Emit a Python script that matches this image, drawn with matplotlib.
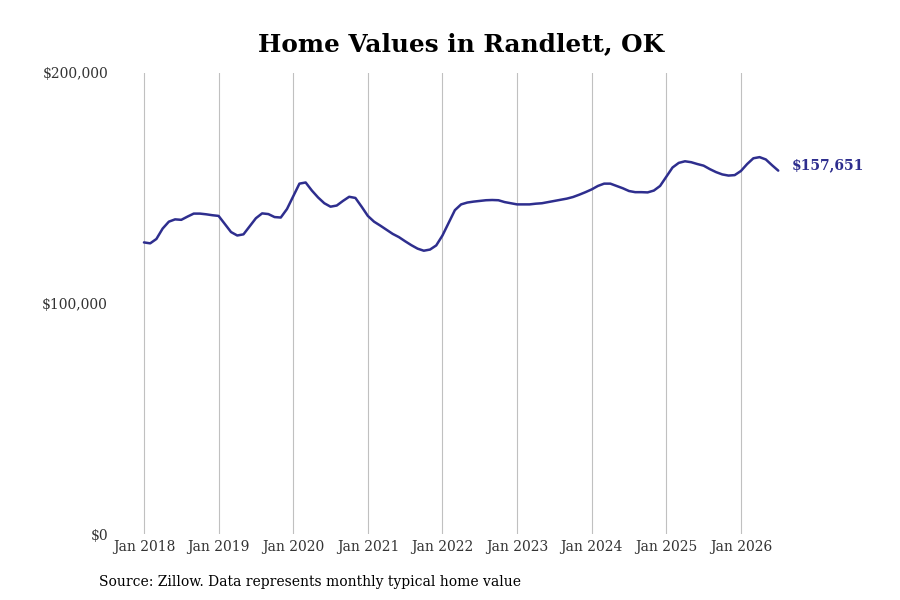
import numpy as np
import matplotlib.pyplot as plt

# monthly typical home value, Jan 2018 .. Jul 2026 (thousands of $)
v2018 = [126.5, 126.1, 128.0, 132.5, 135.5, 136.5, 136.3, 137.7, 139.0, 139.0, 138.7, 138.3]
v2019 = [138.0, 134.5, 131.0, 129.5, 130.0, 133.5, 137.0, 139.1, 138.8, 137.5, 137.3, 141.0]
v2020 = [146.5, 152.0, 152.5, 149.0, 146.0, 143.5, 142.0, 142.5, 144.5, 146.3, 145.8, 142.0]
v2021 = [138.0, 135.5, 133.8, 132.0, 130.2, 128.8, 127.0, 125.3, 123.8, 122.9, 123.4, 125.2]
v2022 = [129.5, 135.0, 140.5, 143.0, 143.8, 144.2, 144.5, 144.8, 144.9, 144.8, 144.0, 143.5]
v2023 = [143.0, 143.0, 143.0, 143.3, 143.5, 144.0, 144.5, 145.0, 145.5, 146.2, 147.2, 148.3]
v2024 = [149.5, 151.0, 152.0, 152.0, 151.0, 150.0, 148.8, 148.3, 148.3, 148.2, 149.0, 151.0]
v2025 = [155.0, 159.0, 161.0, 161.7, 161.3, 160.5, 159.8, 158.3, 157.0, 156.0, 155.5, 155.7]
v2026 = [157.5, 160.5, 163.0, 163.5, 162.5, 160.0, 157.651]

values = np.array(v2018 + v2019 + v2020 + v2021 + v2022 + v2023 + v2024 + v2025 + v2026) * 1000
months = np.arange(len(values))

year_labels = ['Jan 2018', 'Jan 2019', 'Jan 2020', 'Jan 2021', 'Jan 2022',
               'Jan 2023', 'Jan 2024', 'Jan 2025', 'Jan 2026']
y_ticks = [0, 100000, 200000]
y_labels = ['$0', '$100,000', '$200,000']

line_color = '#2e2e8e'

plt.rcParams['font.family'] = ['DejaVu Serif']

fig = plt.figure(figsize=(9, 6), dpi=100)
ax = fig.add_axes([115 / 900, 66 / 600, 685 / 900, 461 / 600])

ax.plot(months, values, color=line_color, linewidth=1.8, solid_capstyle='round')

ax.set_xlim(-4.66, 105.5)
ax.set_ylim(0, 200000)
ax.set_xticks(np.arange(0, 97, 12))
ax.set_xticklabels(year_labels, fontsize=10, color='#333333')
ax.set_yticks(y_ticks)
ax.set_yticklabels(y_labels, fontsize=10, color='#333333')
ax.tick_params(axis='both', length=0)
ax.tick_params(axis='x', pad=4)
ax.tick_params(axis='y', pad=5)
ax.grid(axis='x', color='#c0c0c0', linewidth=0.8)
ax.grid(axis='y', visible=False)
for s in ax.spines.values():
    s.set_visible(False)

ax.annotate('$157,651', xy=(months[-1], values[-1]), xytext=(10, 4),
            textcoords='offset points', fontsize=10, fontweight='bold',
            color=line_color, va='center', ha='left')

fig.text(0.512, 0.927, 'Home Values in Randlett, OK', ha='center', va='center',
         fontsize=17.8, fontweight='bold', color='black')
fig.text(99 / 900, 0.03, 'Source: Zillow. Data represents monthly typical home value',
         ha='left', va='center', fontsize=10, color='black')

fig.savefig('out.png', dpi=100)
